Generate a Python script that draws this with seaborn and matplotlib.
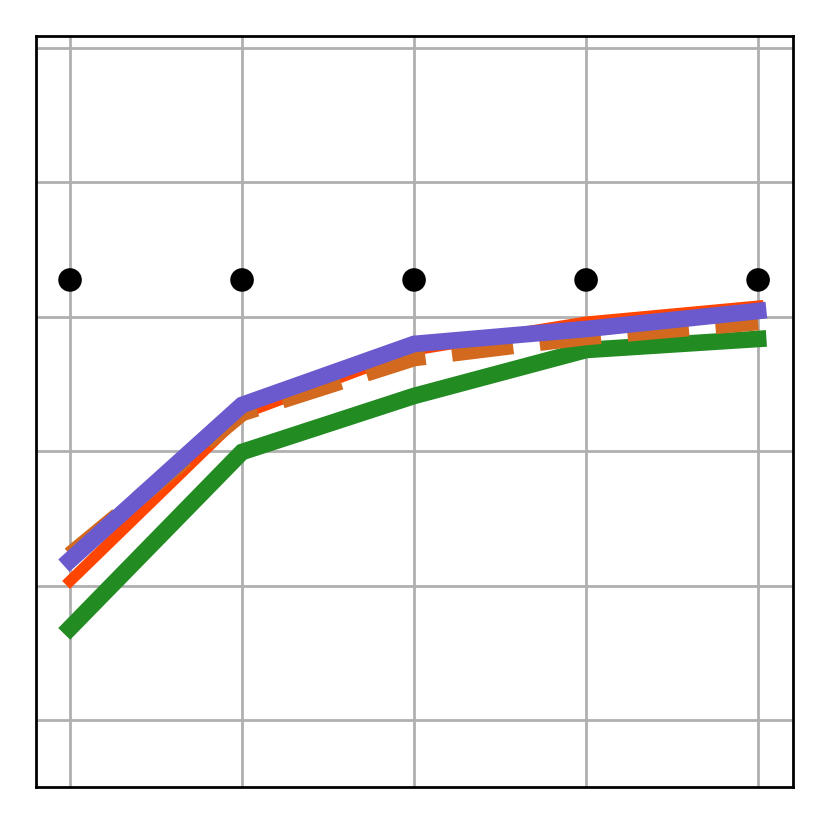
import matplotlib
matplotlib.use("Agg")
import matplotlib.pyplot as plt
import pandas as pd
import seaborn as sns

steps = [0, 1, 2, 3, 4]
green_vals = [0.685, 1.994, 2.411, 2.753, 2.835]
red_vals = [1.034, 2.277, 2.753, 2.961, 3.080]
orange_vals = [1.228, 2.284, 2.693, 2.850, 2.961]
purple_vals = [1.190, 2.344, 2.798, 2.909, 3.043]
dot_vals = [3.274, 3.274, 3.274, 3.274, 3.274]

sns.set_style("white")

fig = plt.figure(figsize=(4.145, 4.12), dpi=200)
ax = fig.add_axes([0.0434, 0.0449, 0.9132, 0.9114])

series = [
    (green_vals, "forestgreen", 6, "-"),
    (red_vals, "orangered", 4, "-"),
    (orange_vals, "chocolate", 6, "--"),
    (purple_vals, "slateblue", 6, "-"),
]
for vals, color, lw, ls in series:
    df = pd.DataFrame({"x": steps, "y": vals})
    sns.lineplot(data=df, x="x", y="y", ax=ax, color=color, linewidth=lw,
                 linestyle=ls, solid_capstyle="projecting",
                 dash_capstyle="butt", solid_joinstyle="miter")

dots = pd.DataFrame({"x": steps, "y": dot_vals})
sns.scatterplot(data=dots, x="x", y="y", ax=ax, color="black", s=72,
                edgecolor="none", zorder=5)

ax.set_xlim(-0.198, 4.203)
ax.set_ylim(-0.4985, 5.089)
ax.set_xticks(steps)
ax.set_yticks([0, 1, 2, 3, 4, 5])
ax.grid(True, color="#b0b0b0", linewidth=1.0)
ax.set_axisbelow(True)
ax.tick_params(length=0, labelbottom=False, labelleft=False)
ax.set_xlabel("")
ax.set_ylabel("")
for sp in ax.spines.values():
    sp.set_color("black")
    sp.set_linewidth(1.0)

fig.savefig("out.png", dpi=200)
